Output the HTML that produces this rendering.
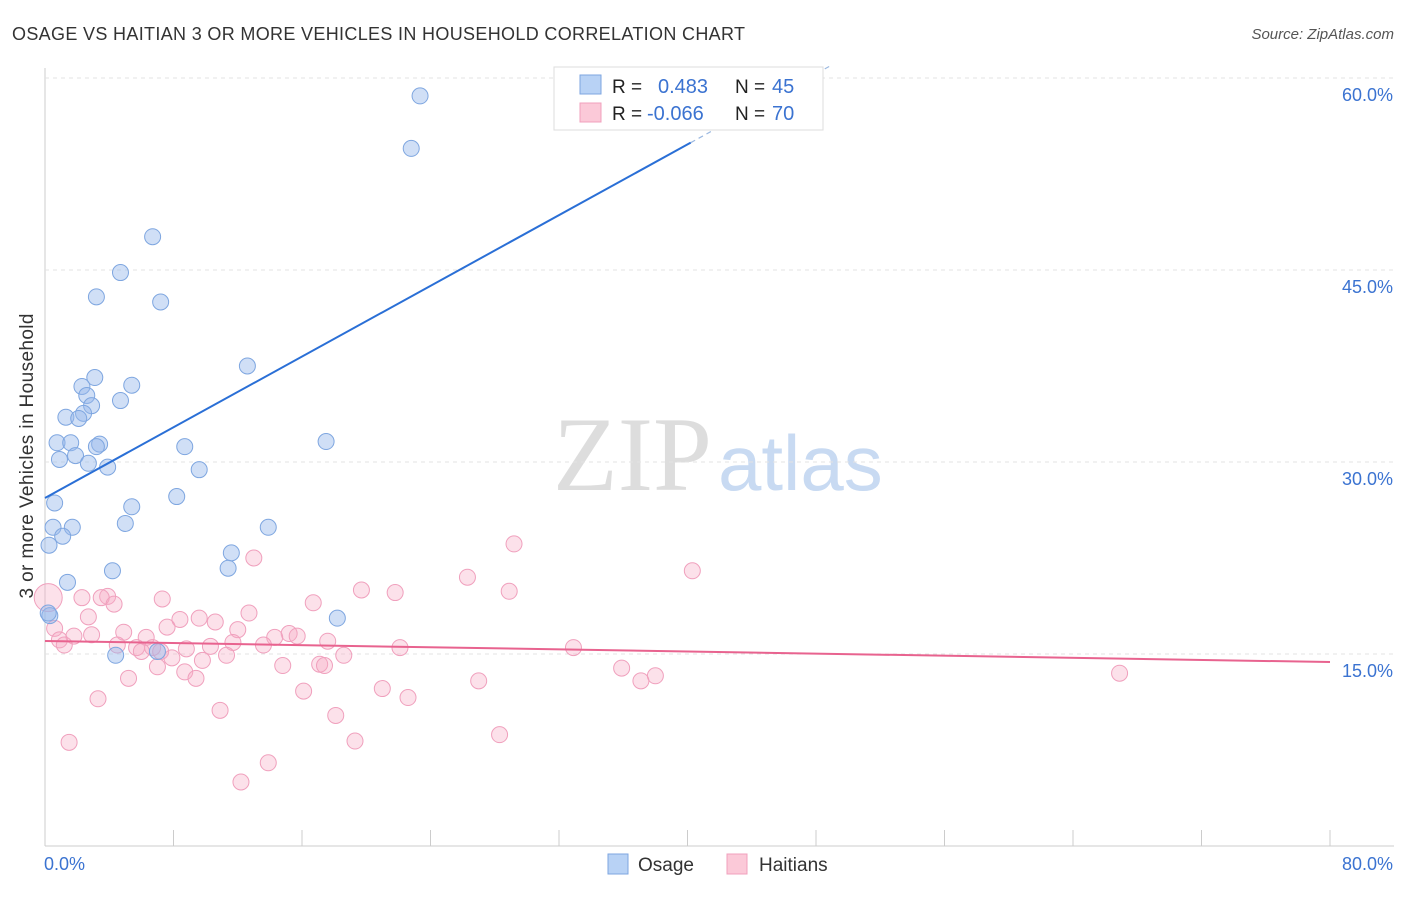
<!DOCTYPE html>
<html><head><meta charset="utf-8"><style>
body{margin:0;background:#fff;font-family:"Liberation Sans",sans-serif}
</style></head><body>
<svg id="c" width="1406" height="892" xmlns="http://www.w3.org/2000/svg" style="font-family:'Liberation Sans',sans-serif">
<text x="12" y="40" font-size="18" fill="#333" textLength="733">OSAGE VS HAITIAN 3 OR MORE VEHICLES IN HOUSEHOLD CORRELATION CHART</text>
<text x="1394" y="39" font-size="15" fill="#555" font-style="italic" text-anchor="end">Source: ZipAtlas.com</text>
<text x="553" y="490" font-size="106" fill="#ddd" font-family="Liberation Serif">ZIP</text>
<text x="718" y="490" font-size="78" fill="#c8daf2">atlas</text>
<g id="grid"></g><g id="pts"></g><g id="lines"></g>
<text transform="translate(33,456) rotate(-90)" font-size="19" fill="#333" text-anchor="middle" textLength="285">3 or more Vehicles in Household</text>
<g>
<rect x="554" y="67" width="269" height="63" fill="#fff" stroke="#ddd"/>
<rect x="580" y="75" width="21" height="19" fill="#b8d2f5" stroke="#7ea6e0"/>
<rect x="580" y="103" width="21" height="19" fill="#fbc9d8" stroke="#f0a0bd"/>
<text x="612" y="93" font-size="19" fill="#222">R = </text><text x="658" y="93" font-size="20" fill="#3b73d1">0.483</text>
<text x="735" y="93" font-size="19" fill="#222">N = </text><text x="772" y="93" font-size="20" fill="#3b73d1">45</text>
<text x="612" y="120" font-size="19" fill="#222">R = </text><text x="647" y="120" font-size="20" fill="#3b73d1">-0.066</text>
<text x="735" y="120" font-size="19" fill="#222">N = </text><text x="772" y="120" font-size="20" fill="#3b73d1">70</text>
</g>
<g>
<rect x="608" y="854" width="20" height="20" fill="#b8d2f5" stroke="#7ea6e0"/><text x="638" y="871" font-size="19" fill="#333">Osage</text>
<rect x="727" y="854" width="20" height="20" fill="#fbc9d8" stroke="#f0a0bd"/><text x="759" y="871" font-size="19" fill="#333">Haitians</text>
</g>
</svg>
<script>
const yTicks=[15,30,45,60];
const yTickLabels=["15.0%","30.0%","45.0%","60.0%"];
const xTickCount=10;
const osageX=[23.35,22.8,6.7,4.7,3.2,7.2,12.6,3.1,2.3,5.4,2.6,4.7,2.9,1.3,2.4,2.1,0.75,1.6,3.4,3.2,8.7,1.9,0.9,2.7,3.9,17.5,9.6,8.2,0.6,5.4,5.0,1.7,0.5,13.9,1.1,0.25,11.6,11.4,4.2,1.4,18.2,0.3,4.4,7.0,0.2];
const osageY=[58.6,54.5,47.6,44.8,42.9,42.5,37.5,36.6,35.9,36.0,35.2,34.8,34.4,33.5,33.8,33.4,31.5,31.5,31.4,31.2,31.2,30.5,30.2,29.9,29.6,31.6,29.4,27.3,26.8,26.5,25.2,24.9,24.9,24.9,24.2,23.5,22.9,21.7,21.5,20.6,17.8,18.0,14.9,15.2,18.2];
const haitiX=[0.2,29.2,13.0,26.3,40.3,19.7,21.8,28.9,3.9,2.3,3.5,7.3,4.3,16.7,12.7,2.7,8.4,9.6,10.6,7.6,12.0,0.6,4.9,2.9,15.2,15.7,1.8,0.9,6.3,14.3,17.6,1.2,11.7,4.5,6.7,5.7,8.8,10.3,22.1,32.9,13.6,18.6,6.0,7.2,11.3,9.8,7.9,7.0,14.8,17.1,17.4,35.9,8.7,5.2,9.4,38.0,37.1,27.0,66.9,16.1,21.0,22.6,3.3,10.9,18.1,28.3,1.5,19.3,13.9,12.2];
const haitiY=[19.4,23.6,22.5,21.0,21.5,20.0,19.8,19.9,19.5,19.4,19.4,19.3,18.9,19.0,18.2,17.9,17.7,17.8,17.5,17.1,16.9,17.0,16.7,16.5,16.6,16.4,16.4,16.1,16.3,16.3,16.0,15.7,15.9,15.7,15.5,15.5,15.4,15.6,15.5,15.5,15.7,14.9,15.2,15.2,14.9,14.5,14.7,14.0,14.1,14.2,14.1,13.9,13.6,13.1,13.1,13.3,12.9,12.9,13.5,12.1,12.3,11.6,11.5,10.6,10.2,8.7,8.1,8.2,6.5,5.0];
const blueFit=[27.19,0.6905], pinkFit=[16.02,-0.0206];
const X=v=>45+v/80*1285, Y=v=>846-v/15*192;
const NS="http://www.w3.org/2000/svg";
function mk(p,t,a){const e=document.createElementNS(NS,t);for(const k in a)e.setAttribute(k,a[k]);document.getElementById(p).appendChild(e);return e;}
let e=mk('grid','line',{x1:45,x2:1394,y1:846,y2:846,stroke:'#ccc'});

e=mk('grid','line',{x1:45,x2:45,y1:68,y2:846,stroke:'#ccc'});

for(let i=1;i<=xTickCount;i++){e=mk('grid','line',{x1:X(i*8),x2:X(i*8),y1:830,y2:846,stroke:'#ccc'});
}
yTicks.forEach((t,i)=>{e=mk('grid','line',{x1:45,x2:1394,y1:Y(t),y2:Y(t),stroke:'#e3e3e3','stroke-dasharray':'4,4'});

e=mk('grid','text',{x:1393,y:Y(t)+23,'font-size':18,fill:'#3b73d1','text-anchor':'end'});e.textContent=yTickLabels[i];
});
e=mk('grid','text',{x:44,y:870,'font-size':18,fill:'#3b73d1'});e.textContent='0.0%';

e=mk('grid','text',{x:1393,y:870,'font-size':18,fill:'#3b73d1','text-anchor':'end'});e.textContent='80.0%';

haitiX.forEach((x,i)=>{e=mk('pts','circle',{cx:X(x),cy:Y(haitiY[i]),r:i==0?14:8,fill:'rgba(245,170,195,0.35)',stroke:'#f0a0bd','stroke-width':1});
});
osageX.forEach((x,i)=>{e=mk('pts','circle',{cx:X(x),cy:Y(osageY[i]),r:8,fill:'rgba(150,185,235,0.45)',stroke:'#7ea6e0','stroke-width':1});
});
const fy=(f,x)=>f[0]+f[1]*x;
e=mk('lines','line',{x1:X(0),y1:Y(fy(blueFit,0)),x2:X(40.2),y2:Y(fy(blueFit,40.2)),stroke:'#2a6fd6','stroke-width':2});

e=mk('lines','line',{x1:X(40.2),y1:Y(fy(blueFit,40.2)),x2:X(48.9),y2:Y(fy(blueFit,48.9)),stroke:'#9bb8e0','stroke-width':1.2,'stroke-dasharray':'5,4'});

e=mk('lines','line',{x1:X(0),y1:Y(fy(pinkFit,0)),x2:X(80),y2:Y(fy(pinkFit,80)),stroke:'#e8638f','stroke-width':2});

</script>
</body></html>
